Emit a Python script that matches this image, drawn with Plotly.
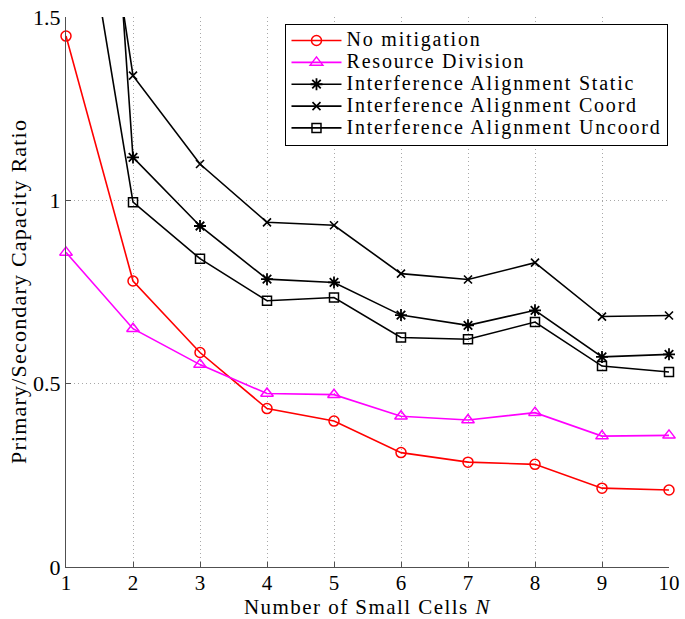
import plotly.graph_objects as go

N = [1, 2, 3, 4, 5, 6, 7, 8, 9, 10]
no_mitigation = [1.448, 0.780, 0.585, 0.432, 0.398, 0.312, 0.286, 0.280, 0.215, 0.210]
resource_division = [0.858, 0.650, 0.552, 0.473, 0.470, 0.411, 0.401, 0.421, 0.357, 0.359]
ia_static = [3.77, 1.117, 0.930, 0.785, 0.776, 0.687, 0.659, 0.700, 0.573, 0.580]
ia_coord = [2.55, 1.340, 1.099, 0.940, 0.932, 0.800, 0.784, 0.830, 0.683, 0.686]
ia_uncoord = [2.10, 0.995, 0.841, 0.726, 0.735, 0.626, 0.621, 0.668, 0.548, 0.532]

x_ticks = [1, 2, 3, 4, 5, 6, 7, 8, 9, 10]
y_ticks = [0, 0.5, 1, 1.5]
y_tick_labels = ["0", "0.5", "1", "1.5"]

x_title = "Number of Small Cells <i>N</i>"
y_title = "Primary/Secondary Capacity Ratio"

FONT = "Liberation Serif"


def wide(text, size, spacing):
    return f'<span style="font-size:{size}px;letter-spacing:{spacing}px">{text}</span>'


series = [
    ("No mitigation", no_mitigation, "#ff0000", "circle-open", 10, 1.5),
    ("Resource Division", resource_division, "#ff00ff", "triangle-up-open", 11, 1.5),
    ("Interference Alignment Static", ia_static, "#000000", "asterisk-open", 10, 1.8),
    ("Interference Alignment Coord", ia_coord, "#000000", "x-thin-open", 8, 1.6),
    ("Interference Alignment Uncoord", ia_uncoord, "#000000", "square-open", 9, 1.5),
]

fig = go.Figure()
for name, vals, color, sym, size, lw in series:
    fig.add_trace(go.Scatter(
        x=N, y=vals, name=wide(name, 20, 1.8), mode="lines+markers",
        line=dict(color=color, width=1.6),
        marker=dict(symbol=sym, size=size, color=color, line=dict(color=color, width=lw)),
        cliponaxis=False,
    ))

grid = dict(showgrid=True, gridcolor="#a8a8a8", griddash="1px,3px", gridwidth=1)
axline = dict(showline=True, linecolor="#505050", linewidth=1.2,
              ticks="inside", ticklen=5, tickcolor="#505050", tickwidth=1,
              zeroline=False, mirror=False, automargin=False)

fig.update_layout(
    width=685, height=619,
    margin=dict(l=66, r=16, t=17, b=52),
    paper_bgcolor="white", plot_bgcolor="white",
    font=dict(family=FONT, size=20, color="black"),
    showlegend=True,
    legend=dict(
        x=0.364, y=0.988, xanchor="left", yanchor="top",
        bgcolor="white", bordercolor="black", borderwidth=1,
        font=dict(family=FONT, size=14.5, color="black"),
        tracegroupgap=0, itemwidth=50,
    ),
    xaxis=dict(range=[1, 10], tickmode="array", tickvals=x_ticks, ticklabelstandoff=-3,
               tickfont=dict(family=FONT, size=21, color="black"), **grid, **axline),
    yaxis=dict(range=[0, 1.5], tickmode="array", tickvals=y_ticks, ticktext=y_tick_labels,
               tickfont=dict(family=FONT, size=22, color="black"), **grid, **axline),
    annotations=[
        dict(text=wide(x_title, 21, 1.45), xref="paper", yref="paper", x=0.5, y=-0.0725,
             xanchor="center", yanchor="middle", showarrow=False,
             font=dict(family=FONT, size=21, color="black")),
        dict(text=wide(y_title, 22, 1.2), xref="paper", yref="paper", x=-0.0796, y=0.5,
             xanchor="center", yanchor="middle", textangle=-90, showarrow=False,
             font=dict(family=FONT, size=22, color="black")),
    ],
)

fig.write_html("out.html", config={"displayModeBar": False},
               post_script="document.body.style.margin='0px';")
